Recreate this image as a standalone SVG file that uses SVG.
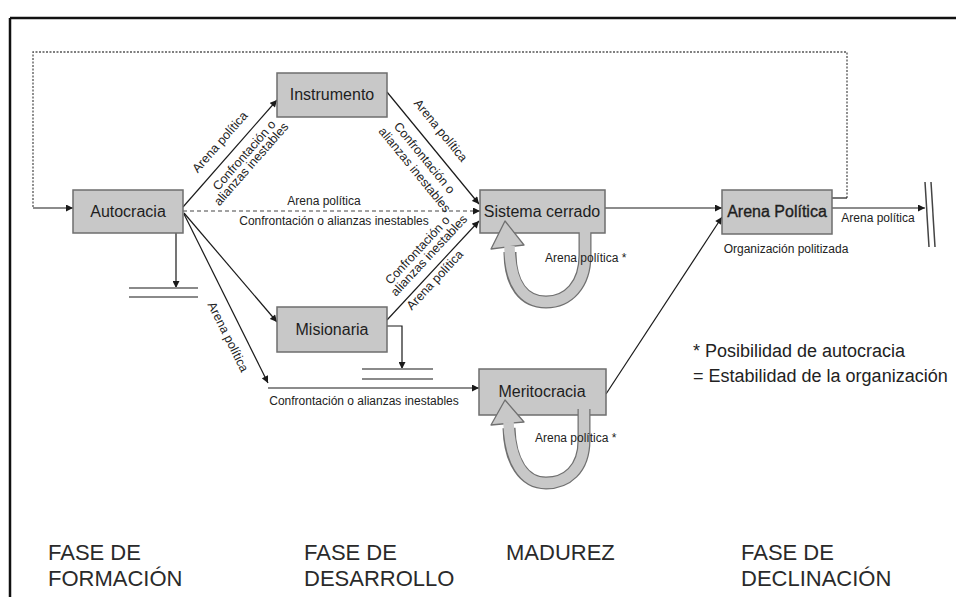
<svg xmlns="http://www.w3.org/2000/svg" width="956" height="597" viewBox="0 0 956 597">
<style>
  .box{fill:#c8c8c8;stroke:#6e6e6e;stroke-width:1.5}
  .nt{font-family:"Liberation Sans",Arial,sans-serif;font-size:16px;fill:#1e1e1e;text-anchor:middle}
  .ln{fill:none;stroke:#1a1a1a;stroke-width:1.2}
  .dash{fill:none;stroke:#444;stroke-width:1.1;stroke-dasharray:4 3}
  .dot{fill:none;stroke:#555;stroke-width:1.3;stroke-dasharray:2 1.5}
  .lb{font-family:"Liberation Sans",Arial,sans-serif;font-size:12px;fill:#222}
  .rl{font-family:"Liberation Sans",Arial,sans-serif;font-size:12.5px;fill:#222;text-anchor:middle}
  .dbl{stroke:#8a8a8a;stroke-width:2}
  .ph{font-family:"Liberation Sans",Arial,sans-serif;font-size:22px;fill:#2a2a2a}
  .lg{font-family:"Liberation Sans",Arial,sans-serif;font-size:18px;fill:#222}
  .band-o{fill:none;stroke:#707070;stroke-width:13}
  .band-i{fill:none;stroke:#c8c8c8;stroke-width:10.5}
  .head{fill:#c8c8c8;stroke:#707070;stroke-width:1.3;stroke-linejoin:round}
</style>
<defs>
  <marker id="ah" viewBox="0 0 10 10" refX="10" refY="5" markerWidth="8" markerHeight="7" markerUnits="userSpaceOnUse" orient="auto">
    <path d="M0,0 L10,5 L0,10 z" fill="#1a1a1a"/>
  </marker>
</defs>

<!-- frame -->
<g id="frame">
  <line x1="10" y1="18" x2="956" y2="18" stroke="#111" stroke-width="2.5"/>
  <line x1="10" y1="18" x2="10" y2="597" stroke="#111" stroke-width="2.5"/>
</g>

<g id="connectors">
  <!-- dotted feedback loop -->
  <polyline class="dot" points="847,198 847,52 33,52 33,208"/>
  <line class="ln" x1="832" y1="198" x2="847" y2="198"/>
  <line class="ln" x1="33" y1="208" x2="73" y2="208" marker-end="url(#ah)"/>

  <!-- Autocracia outgoing -->
  <line class="ln" x1="183" y1="207" x2="277" y2="100" marker-end="url(#ah)"/>
  <line class="dash" x1="183" y1="211" x2="480" y2="211" marker-end="url(#ah)"/>
  <line class="ln" x1="184" y1="213" x2="277" y2="322" marker-end="url(#ah)"/>
  <line class="ln" x1="184" y1="214" x2="268" y2="383" marker-end="url(#ah)"/>
  <line class="ln" x1="268" y1="388" x2="479" y2="388" marker-end="url(#ah)"/>
  <line class="ln" x1="176" y1="233" x2="176" y2="288" marker-end="url(#ah)"/>

  <!-- to Sistema cerrado -->
  <line class="ln" x1="387" y1="92" x2="479" y2="204" marker-end="url(#ah)"/>
  <line class="ln" x1="387" y1="320" x2="479" y2="221" marker-end="url(#ah)"/>
  <polyline class="ln" points="387,326 402,326 402,369" marker-end="url(#ah)"/>

  <!-- to Arena Politica -->
  <line class="ln" x1="605" y1="208" x2="722" y2="208" marker-end="url(#ah)"/>
  <line class="ln" x1="606" y1="394" x2="722" y2="217" marker-end="url(#ah)"/>
  <line class="ln" x1="832" y1="208" x2="925" y2="208" marker-end="url(#ah)"/>

  <!-- termination double lines -->
  <line class="dbl" x1="129" y1="288" x2="198" y2="288"/>
  <line class="dbl" x1="129" y1="297" x2="198" y2="297"/>
  <line class="dbl" x1="362" y1="369" x2="433" y2="369"/>
  <line class="dbl" x1="362" y1="379" x2="433" y2="379"/>
  <line stroke="#444" stroke-width="1.5" x1="925" y1="182" x2="929" y2="247"/>
  <line stroke="#444" stroke-width="1.5" x1="931" y1="182" x2="935" y2="247"/>

  <!-- connector labels -->
  <text class="lb" x="324" y="205" text-anchor="middle">Arena política</text>
  <text class="lb" x="334" y="225" text-anchor="middle">Confrontación o alianzas inestables</text>
  <text class="lb" x="364" y="405" text-anchor="middle">Confrontación o alianzas inestables</text>
  <text class="lb" x="878" y="222" text-anchor="middle" font-size="12.5">Arena política</text>

  <g transform="translate(230,153.5) rotate(-48.7)">
    <text class="rl" x="2" y="-11">Arena política</text>
    <text class="rl" x="8" y="16">Confrontación o</text>
    <text class="rl" x="6" y="27">alianzas inestables</text>
  </g>
  <g transform="translate(432.5,147.5) rotate(50.7)">
    <text class="rl" x="-8" y="-13">Arena política</text>
    <text class="rl" x="3" y="17">Confrontación o</text>
    <text class="rl" x="6" y="32">alianzas inestables</text>
  </g>
  <g transform="translate(432.5,271) rotate(-47.1)">
    <text class="rl" x="5" y="-21">Confrontación o</text>
    <text class="rl" x="9" y="-9">alianzas inestables</text>
    <text class="rl" x="-5" y="12">Arena política</text>
  </g>
  <g transform="translate(228,337) rotate(63.5)">
    <text class="rl" x="0" y="4">Arena política</text>
  </g>
</g>

<g id="autocracia">
  <rect class="box" x="73" y="190" width="110" height="43"/>
  <text class="nt" x="128" y="217">Autocracia</text>
</g>
<g id="instrumento">
  <rect class="box" x="277" y="73" width="110" height="44"/>
  <text class="nt" x="332" y="100">Instrumento</text>
</g>
<g id="misionaria">
  <rect class="box" x="277" y="307" width="110" height="45"/>
  <text class="nt" x="332" y="335">Misionaria</text>
</g>
<g id="sistema-cerrado">
  <rect class="box" x="480" y="190" width="125" height="43"/>
  <text class="nt" x="542" y="217">Sistema cerrado</text>
</g>
<g id="meritocracia">
  <rect class="box" x="479" y="369" width="127" height="46"/>
  <text class="nt" x="542" y="397">Meritocracia</text>
</g>
<g id="arena-politica">
  <rect class="box" x="722" y="190" width="110" height="44"/>
  <text class="nt" x="777" y="217" stroke="#1e1e1e" stroke-width="0.35">Arena Política</text>
  <text class="lb" x="786" y="253" text-anchor="middle" font-size="11">Organización politizada</text>
</g>

<g id="self-loops">
  <path class="band-o" d="M585,233 L585,255 C585,285 568,302 546,302 C524,302 510,285 510,252"/>
  <polygon class="head" points="505,221 491,249 524,245"/>
  <path class="band-i" d="M585,232 L585,255 C585,285 568,302 546,302 C524,302 510,285 509.5,246"/>
  <text class="lb" x="545" y="262" font-size="12.5">Arena política *</text>

  <path class="band-o" d="M584,409 L584,440 C584,470 566,483 546,483 C524,483 510,462 509,428"/>
  <polygon class="head" points="505,400 491,425 524,422"/>
  <path class="band-i" d="M584,408 L584,440 C584,470 566,483 546,483 C524,483 510,462 508.5,422"/>
  <text class="lb" x="535" y="442" font-size="12.5">Arena política *</text>
</g>

<g id="legend">
  <text class="lg" x="693" y="357">* Posibilidad de autocracia</text>
  <text class="lg" x="693" y="382">= Estabilidad de la organización</text>
</g>

<g id="phases">
  <text class="ph" x="48" y="560">FASE DE</text>
  <text class="ph" x="48" y="586">FORMACIÓN</text>
  <text class="ph" x="304" y="560">FASE DE</text>
  <text class="ph" x="304" y="586">DESARROLLO</text>
  <text class="ph" x="506" y="560">MADUREZ</text>
  <text class="ph" x="741" y="560">FASE DE</text>
  <text class="ph" x="741" y="586">DECLINACIÓN</text>
</g>
</svg>
